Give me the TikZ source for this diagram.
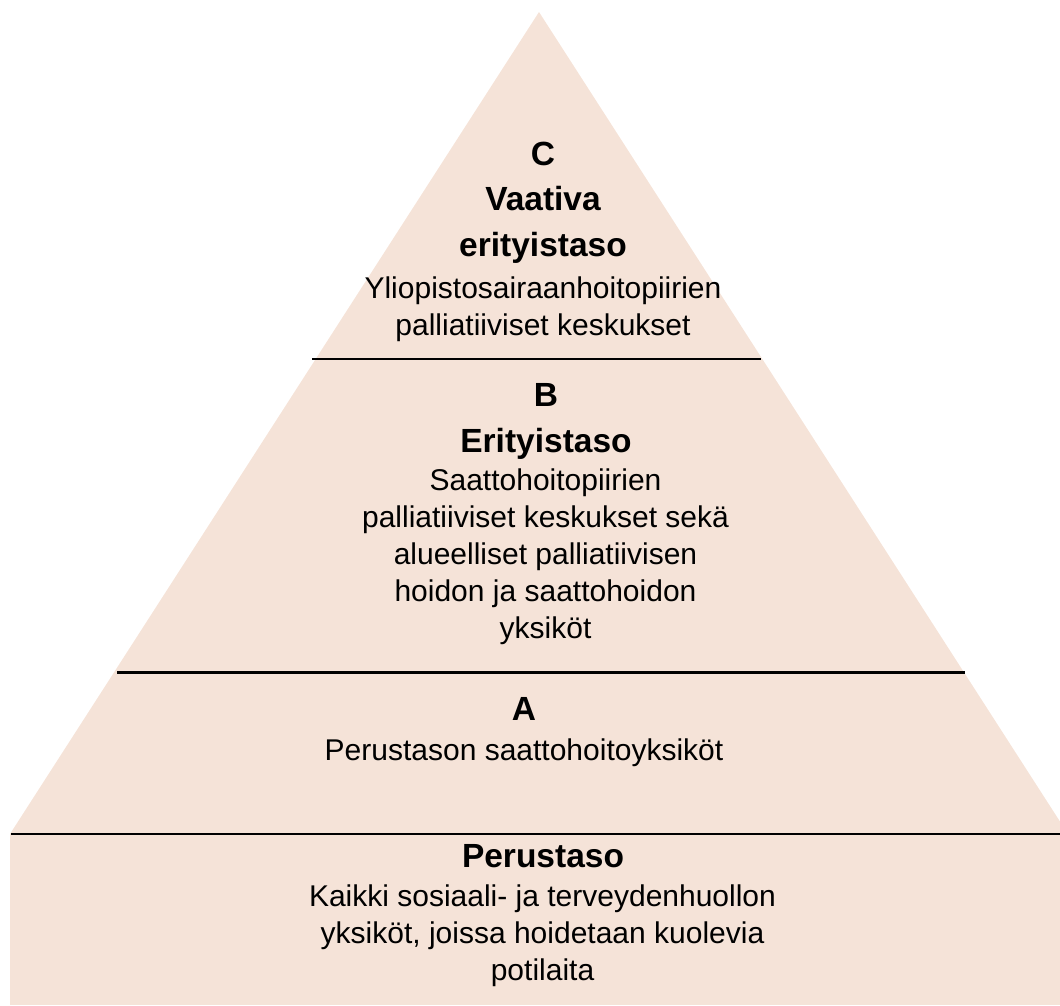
\documentclass[tikz,border=0pt]{standalone}
\usepackage{fontspec}
\setmainfont{Liberation Sans}
\definecolor{peach}{HTML}{F5E3D8}
\begin{document}
\begin{tikzpicture}[x=1pt,y=-1pt,
  hdr/.style={font=\fontsize{33.5}{45.5}\selectfont\bfseries, align=center, anchor=base, inner sep=0pt},
  body/.style={font=\fontsize{30}{36.8}\selectfont, align=center, anchor=base, inner sep=0pt},
  divider/.style={line width=2.3pt, black}]
\useasboundingbox (0,0) rectangle (1060,1005);
\begin{scope}
  \clip (0,0) rectangle (1060,1005);
  \fill[peach] (539,12) -- (1068,834) -- (10,834) -- cycle;
  \fill[peach] (10,834) rectangle (1060,1005);
\end{scope}
\draw[divider] (312,359) -- (761,359);
\draw[divider] (117,672.5) -- (965,672.5);
\draw[divider] (11,834) -- (1060,834);

\node[hdr] (chead) at (543,256) {C\\Vaativa\\erityistaso};
\node[body] (cbody) at (543,335) {Yliopistosairaanhoitopiirien\\palliatiiviset keskukset};

\node[hdr] (bhead) at (546,452) {B\\Erityistaso};
\node[body] (bbody) at (545.5,638) {Saattohoitopiirien\\palliatiiviset keskukset sekä\\alueelliset palliatiivisen\\hoidon ja saattohoidon\\yksiköt};

\node[hdr] (ahead) at (524,720) {A};
\node[body] (abody) at (524,760) {Perustason saattohoitoyksiköt};

\node[hdr] (phead) at (543,867) {Perustaso};
\node[body] (pbody) at (542.5,980) {Kaikki sosiaali- ja terveydenhuollon\\yksiköt, joissa hoidetaan kuolevia\\potilaita};
\end{tikzpicture}
\end{document}
